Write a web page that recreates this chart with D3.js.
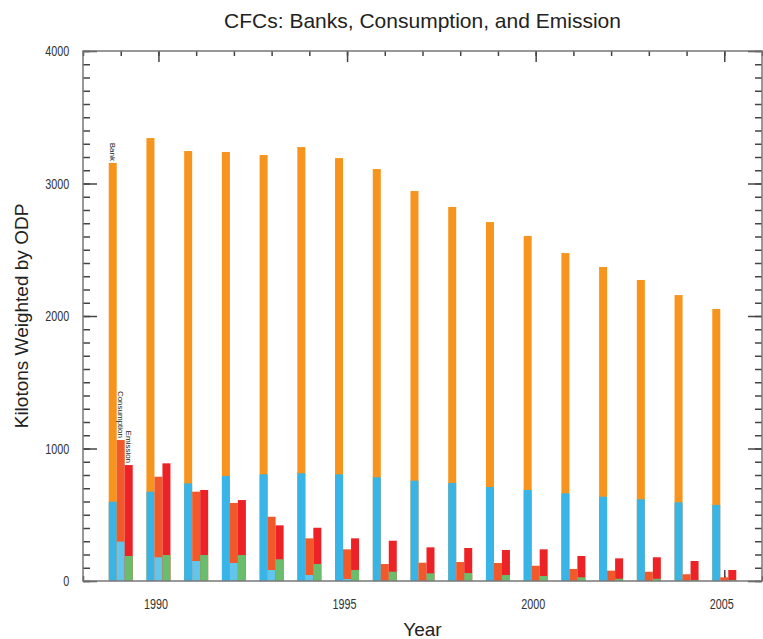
<!DOCTYPE html>
<html>
<head>
<meta charset="utf-8">
<script src="https://cdn.jsdelivr.net/npm/d3@7"></script>
<style>
  body { margin: 0; background: #fff; }
  svg { display: block; }
  .tick text { font-family: "Liberation Sans", Arial, sans-serif; font-size: 15px; fill: #333; }
  .tick line { stroke: #444; stroke-width: 1.5; }
  .domain { display: none; }
</style>
</head>
<body>
<div class="container"></div>
<script>
const WIDTH = 763;
const HEIGHT = 639;
const LEFT = 83, RIGHT = 762, TOP = 51, BOTTOM = 581;
const SQUEEZE = 0.72;

// data (kilotons weighted by ODP)
var years = d3.range(1989, 2006);
var bankTotal = [3155, 3343, 3245, 3238, 3215, 3275, 3192, 3109, 2943, 2823, 2709, 2604, 2475, 2370, 2272, 2158, 2053];
var bankBlue = [598, 674, 737, 792, 805, 813, 805, 783, 757, 740, 709, 687, 662, 636, 617, 594, 574];
var consTotal = [1064, 787, 674, 589, 485, 322, 239, 128, 138, 143, 136, 115, 91, 78, 70, 51, 28];
var consBlue = [297, 179, 151, 136, 83, 45, 15, 0, 0, 0, 0, 0, 0, 0, 0, 0, 0];
var emisTotal = [875, 888, 687, 611, 420, 402, 322, 304, 254, 249, 234, 239, 189, 171, 179, 151, 83];
var emisGreen = [189, 196, 196, 196, 164, 128, 83, 70, 58, 60, 45, 38, 28, 17, 17, 8, 8];
var yTicks = [0, 1000, 2000, 3000, 4000];
var xTicks = [1990, 1995, 2000, 2005];

var series = [
    {key: "Bank", total: bankTotal, lower: bankBlue, top: "#f7941d", bottom: "#38b4e6"},
    {key: "Consumption", total: consTotal, lower: consBlue, top: "#f1592a", bottom: "#62c6ec"},
    {key: "Emission", total: emisTotal, lower: emisGreen, top: "#ec2227", bottom: "#6bbd6e"}
];

var x = d3.scaleLinear().domain([1988, 2006]).range([LEFT, RIGHT]);
var y = d3.scaleLinear().domain([0, 4000]).range([BOTTOM, TOP]);
var sub = d3.scaleBand().domain(series.map(function (s) { return s.key; })).range([-12, 12]);

var translate = function (a, b) {
    return "translate(" + a + "," + b + ")";
};

var svg = d3.select(".container").append("svg")
    .attr("width", WIDTH)
    .attr("height", HEIGHT);

// minor and major ticks on all four sides
var yMinor = d3.range(0, 4001, 100);
var xMinor = d3.range(1988, 2007, 1);

svg.append("g").attr("transform", translate(LEFT, 0))
    .call(d3.axisRight(y).tickValues(yMinor).tickSize(7).tickFormat(""));
svg.append("g").attr("transform", translate(LEFT, 0))
    .call(d3.axisRight(y).tickValues(yTicks).tickSize(14).tickFormat(""));
svg.append("g").attr("transform", translate(RIGHT, 0))
    .call(d3.axisLeft(y).tickValues(yMinor).tickSize(7).tickFormat(""));
svg.append("g").attr("transform", translate(RIGHT, 0))
    .call(d3.axisLeft(y).tickValues(yTicks).tickSize(14).tickFormat(""));
svg.append("g").attr("transform", translate(0, TOP))
    .call(d3.axisBottom(x).tickValues(xMinor).tickSize(5).tickFormat(""));
svg.append("g").attr("transform", translate(0, TOP))
    .call(d3.axisBottom(x).tickValues(xTicks).tickSize(11).tickFormat(""));
svg.append("g").attr("transform", translate(0, BOTTOM))
    .call(d3.axisTop(x).tickValues(xMinor).tickSize(5).tickFormat(""));
svg.append("g").attr("transform", translate(0, BOTTOM))
    .call(d3.axisTop(x).tickValues(xTicks).tickSize(11).tickFormat(""));

// tick labels, squeezed to look like a narrow face
var yLab = svg.append("g").attr("transform", translate(LEFT, 0))
    .call(d3.axisLeft(y).tickValues(yTicks).tickSize(0).tickPadding(19).tickFormat(d3.format("d")));
yLab.selectAll(".tick text").attr("transform", "scale(" + SQUEEZE + ",1)");

var xLab = svg.append("g").attr("transform", translate(-3, BOTTOM))
    .call(d3.axisBottom(x).tickValues(xTicks).tickSize(0).tickPadding(17).tickFormat(d3.format("d")));
xLab.selectAll(".tick text").attr("transform", "scale(" + SQUEEZE + ",1)");

// bars
series.forEach(function (s) {
    var g = svg.append("g").attr("class", "bars-" + s.key);
    g.selectAll(".top").data(years).enter().append("rect")
        .attr("x", function (d) { return x(d) + sub(s.key); })
        .attr("width", sub.bandwidth())
        .attr("y", function (d, i) { return y(s.total[i]); })
        .attr("height", function (d, i) { return y(0) - y(s.total[i]); })
        .attr("fill", s.top);
    g.selectAll(".low").data(years).enter().append("rect")
        .attr("x", function (d) { return x(d) + sub(s.key); })
        .attr("width", sub.bandwidth())
        .attr("y", function (d, i) { return y(s.lower[i]); })
        .attr("height", function (d, i) { return y(0) - y(s.lower[i]); })
        .attr("fill", s.bottom);

    // small vertical label above the first year's bar
    var lx = x(years[0]) + sub(s.key) + sub.bandwidth() / 2;
    var ly = y(s.total[0]) - 2;
    svg.append("text")
        .attr("transform", translate(lx, ly) + " rotate(90)")
        .attr("text-anchor", "end")
        .attr("dy", "0.35em")
        .style("font-family", "Liberation Sans, Arial, sans-serif")
        .style("font-size", "8px")
        .style("fill", "#222")
        .text(s.key);
});

// frame
svg.append("rect")
    .attr("x", LEFT).attr("y", TOP)
    .attr("width", RIGHT - LEFT).attr("height", BOTTOM - TOP)
    .attr("fill", "none")
    .attr("stroke", "#777")
    .attr("stroke-width", 1.5);

// titles
svg.append("text")
    .attr("x", (LEFT + RIGHT) / 2).attr("y", 28)
    .attr("text-anchor", "middle")
    .style("font-family", "Liberation Sans, Arial, sans-serif")
    .style("font-size", "21px")
    .style("fill", "#222")
    .text("CFCs: Banks, Consumption, and Emission");

svg.append("text")
    .attr("transform", translate(28, (TOP + BOTTOM) / 2) + " rotate(-90)")
    .attr("text-anchor", "middle")
    .style("font-family", "Liberation Sans, Arial, sans-serif")
    .style("font-size", "19px")
    .style("fill", "#222")
    .text("Kilotons Weighted by ODP");

svg.append("text")
    .attr("x", (LEFT + RIGHT) / 2).attr("y", 636)
    .attr("text-anchor", "middle")
    .style("font-family", "Liberation Sans, Arial, sans-serif")
    .style("font-size", "19px")
    .style("fill", "#222")
    .text("Year");
</script>
</body>
</html>
